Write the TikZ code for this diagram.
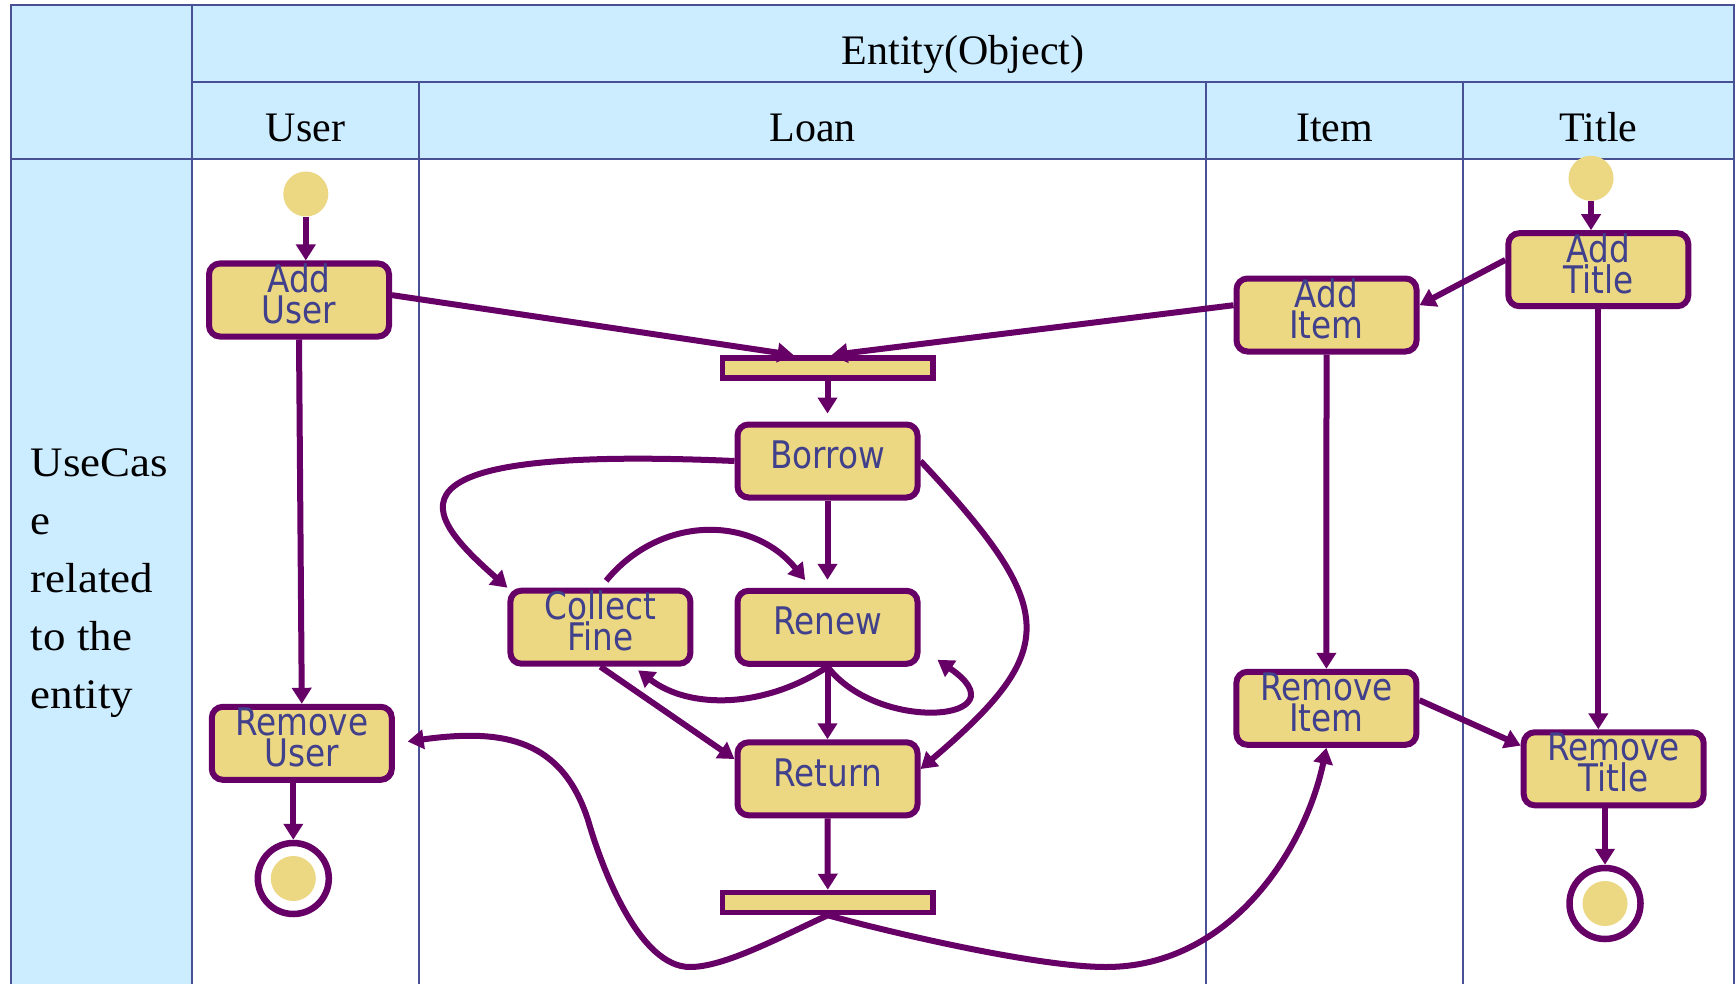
\documentclass[tikz,border=0pt]{standalone}
\usepackage{fontspec}
\setmainfont{Liberation Serif}
\newfontfamily\boxfont[FakeStretch=0.86]{DejaVu Sans}
\newfontfamily\sidefont[FakeStretch=1.07]{Liberation Serif}
\usetikzlibrary{arrows.meta,calc}
\definecolor{hdrblue}{RGB}{204,236,255}
\definecolor{gridline}{RGB}{72,80,150}
\definecolor{purp}{RGB}{102,0,102}
\definecolor{boxtan}{RGB}{236,215,130}
\definecolor{boxtext}{RGB}{64,64,140}
\newcommand{\boxdrop}{\rule[-13pt]{0pt}{13pt}}
\tikzset{
  actbox/.style={rectangle, rounded corners=11pt, draw=purp, fill=boxtan, line width=6pt,
    minimum width=180pt, minimum height=73pt, inner sep=0pt, align=center, text=boxtext,
    font={\boxfont\fontsize{38}{31}\selectfont\lineskiplimit=-40pt}},
  joinbar/.style={rectangle, draw=purp, fill=boxtan, line width=5.5pt,
    minimum width=210.5pt, minimum height=20pt, inner sep=0pt},
  startdot/.style={circle, fill=boxtan, minimum size=45pt, inner sep=0pt},
  enddot/.style={circle, draw=purp, fill=white, line width=6.5pt, minimum size=71pt, inner sep=0pt,
    path picture={\fill[boxtan] (path picture bounding box.center) circle[radius=22.5pt];}},
  flowarrow/.style={draw=purp, line width=6pt, -{Triangle[length=16pt,width=19pt]}},
  hdr/.style={font=\fontsize{42}{50}\selectfont, anchor=base, inner sep=0pt},
  tabline/.style={draw=gridline, line width=2.8pt}
}
\begin{document}
\begin{tikzpicture}[x=1pt,y=-1pt]
\useasboundingbox (0,0) rectangle (1736,984);
\fill[white] (0,0) rectangle (1736,984);
% table
\fill[hdrblue] (11,5) rectangle (192,984);
\fill[hdrblue] (192,5) rectangle (1734,159);
\draw[tabline] (11,990) -- (11,5) -- (1734,5) -- (1734,990);
\draw[tabline] (192,5) -- (192,990);
\draw[tabline] (192,82) -- (1734,82);
\draw[tabline] (11,159) -- (1734,159);
\draw[tabline] (419,82) -- (419,990);
\draw[tabline] (1206,82) -- (1206,990);
\draw[tabline] (1463,82) -- (1463,990);
% headers
\node[hdr] (hentity) at (963,65) {Entity(Object)};
\node[hdr] (huser) at (305.5,141.7) {User};
\node[hdr] (hloan) at (812.5,141.7) {Loan};
\node[hdr] (hitem) at (1334.5,141.7) {Item};
\node[hdr] (htitle) at (1598.5,141.7) {Title};
\node[font={\sidefont\fontsize{42}{57.8}\selectfont}, align=left, anchor=base west, inner sep=0pt] (ucase)
  at (30.7,708) {UseCas\\e\\related\\to the\\entity};
% nodes
\node[startdot] (start1) at (305.8,194) {};
\node[actbox] (adduser) at (299,300) {Add\\User\boxdrop};
\node[actbox] (remuser) at (301.8,743.3) {Remove\\User\boxdrop};
\node[enddot] (end1) at (293.3,878.5) {};
\node[joinbar] (bar1) at (827.5,368.2) {};
\node[actbox] (borrow) at (827.5,461) {Borrow\boxdrop};
\node[actbox] (cfine) at (600.4,627.2) {Collect\\Fine\boxdrop};
\node[actbox] (renew) at (827.5,627.3) {Renew\boxdrop};
\node[actbox] (ret) at (827.5,778.8) {Return\boxdrop};
\node[joinbar] (bar2) at (827.8,902.5) {};
\node[actbox] (additem) at (1326.5,315) {Add\\Item\boxdrop};
\node[actbox] (remitem) at (1326.4,708.3) {Remove\\Item\boxdrop};
\node[startdot] (start2) at (1591,178.3) {};
\node[actbox] (addtitle) at (1598.3,269.7) {Add\\Title\boxdrop};
\node[actbox] (remtitle) at (1613.7,768.8) {Remove\\Title\boxdrop};
\node[enddot] (end2) at (1605,903.5) {};
% connectors
\draw[flowarrow] (start1.south) -- (start1.south |- adduser.north);
\draw[flowarrow] (adduser.south) -- (remuser.north);
\draw[flowarrow] (end1 |- remuser.south) -- (end1.north);
\draw[flowarrow, shorten >=3pt] (adduser.3) -- ($(bar1.north)+(-31,0)$);
\draw[flowarrow, shorten >=3pt] (additem.174) -- ($(bar1.north)+(1,0)$);
\draw[flowarrow] (addtitle.174) -- (additem.6);
\draw[flowarrow] (start2.south) -- (start2.south |- addtitle.north);
\draw[flowarrow] (addtitle.south) -- (addtitle.south |- remtitle.north);
\draw[flowarrow] (additem.south) -- (remitem.north);
\draw[flowarrow] (remitem.5) -- (remtitle.166);
\draw[flowarrow] (end2 |- remtitle.south) -- (end2.north);
\draw[flowarrow, shorten >=8pt] (bar1.south) -- (borrow.north);
\draw[flowarrow, shorten >=8pt] (borrow.south) -- (renew.north);
\draw[flowarrow] (renew.south) -- (ret.north);
\draw[flowarrow] (ret.south) -- (bar2.north);
\draw[flowarrow] (cfine.south) -- (ret.168);
\draw[flowarrow] (borrow.west) .. controls (365,445) and (425,515) .. (cfine.north west);
\draw[flowarrow, shorten <=9pt, shorten >=10pt] (cfine.north) .. controls (660,515) and (752,515) .. ($(renew.north)+(-16,0)$);
\draw[flowarrow, shorten >=6pt] (renew.south) .. controls (765,708) and (690,710) .. ($(cfine.south)+(33,0)$);
\draw[flowarrow] (renew.south) .. controls (880,735) and (1025,720) .. ($(renew.south east)+(17,-7)$);
\draw[flowarrow] (borrow.east) .. controls (1060,610) and (1060,650) .. (ret.6);
\draw[flowarrow, shorten >=13pt] (bar2.south) .. controls (780,937) and (725,967) .. (690,967)
  .. controls (640,967) and (603,872) .. (588,820) .. controls (562,740) and (505,728) .. (remuser.east);
\draw[flowarrow] (bar2.south) .. controls (900,935) and (1040,967) .. (1106,967)
  .. controls (1230,967) and (1305,850) .. (remitem.south);
\end{tikzpicture}
\end{document}
